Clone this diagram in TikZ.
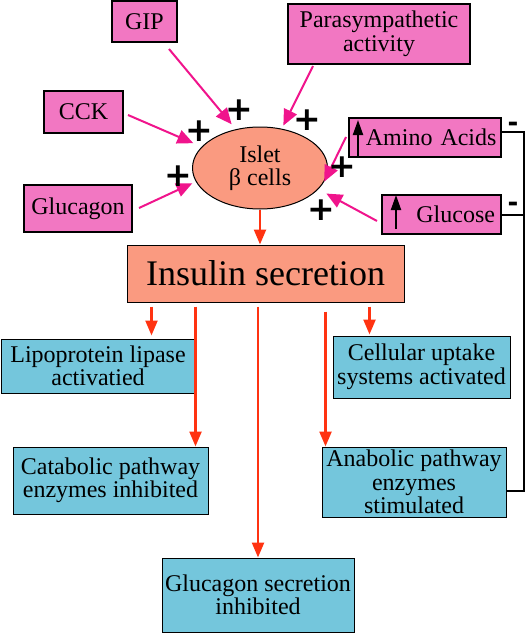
\documentclass[tikz,border=0pt]{standalone}
\usepackage{fontspec}
\setmainfont{Liberation Serif}
\newfontfamily\signfont{DejaVu Sans}
\usetikzlibrary{arrows.meta,shapes.geometric,calc}
\definecolor{pinkfill}{HTML}{F277C2}
\definecolor{redfill}{HTML}{FA9A80}
\definecolor{cyanfill}{HTML}{74C6DC}
\definecolor{pinkline}{HTML}{F0148C}
\definecolor{redline}{HTML}{FF3311}
\begin{document}
\begin{tikzpicture}[x=1pt,y=-1pt,
  txt/.style={font=\fontsize{24}{23.5}\selectfont, align=center, inner sep=0pt},
  pinkbox/.style={txt, draw=black, line width=2pt, fill=pinkfill},
  cyanbox/.style={txt, draw=black, line width=1pt, fill=cyanfill},
  redbox/.style={draw=black, line width=1pt, fill=redfill, inner sep=0pt},
  pkarr/.style={draw=pinkline, line width=2pt, -{Triangle[length=16pt,width=14pt]}},
  rdarr/.style={draw=redline, line width=2.4pt, -{Triangle[length=15pt,width=12pt]}},
  uparr/.style={draw=black, line width=2pt, -{Triangle[length=15pt,width=10pt]}},
  blk/.style={draw=black, line width=2pt},
  plussign/.style={font=\signfont\bfseries\fontsize{33}{33}\selectfont, inner sep=0pt},
  minussign/.style={font=\signfont\bfseries\fontsize{26}{26}\selectfont, inner sep=0pt}]
\useasboundingbox (0,0) rectangle (529,634);

% input boxes
\node[pinkbox, minimum width=65pt, minimum height=41pt] (gip) at (144.5,21.5) {GIP};
\node[pinkbox, minimum width=182pt, minimum height=60pt] (para) at (379,34) {Parasympathetic\\activity};
\node[pinkbox, minimum width=79pt, minimum height=42pt] (cck) at (83.5,112) {CCK};
\node[pinkbox, minimum width=108pt, minimum height=47pt] (glucagon) at (78,208.5) {Glucagon};
\node[pinkbox, minimum width=152pt, minimum height=39pt, text width=143pt, align=right, inner xsep=4pt] (amino) at (425,137.5) {Amino Acids};
\node[pinkbox, minimum width=119pt, minimum height=39pt, text width=107pt, align=right, inner xsep=6pt] (glucose) at (441.5,214.5) {Glucose};

% islet
\node[ellipse, draw=black, line width=1pt, fill=redfill, minimum width=135pt, minimum height=82pt, txt] (islet) at (260,168) {Islet\\β cells};

% insulin
\node[redbox, minimum width=277pt, minimum height=57pt, font=\fontsize{36}{36}\selectfont] (insulin) at (265.5,273.5) {Insulin secretion};

% effect boxes
\node[cyanbox, minimum width=194pt, minimum height=54pt] (lipo) at (98,366) {Lipoprotein lipase\\activatied};
\node[cyanbox, minimum width=177pt, minimum height=62pt] (cell) at (421.5,367) {Cellular uptake\\systems activated};
\node[cyanbox, minimum width=195pt, minimum height=67pt] (cat) at (110.5,480.5) {Catabolic pathway\\enzymes inhibited};
\node[cyanbox, minimum width=184pt, minimum height=70pt] (ana) at (414,482) {Anabolic pathway\\enzymes\\stimulated};
\node[cyanbox, minimum width=192pt, minimum height=74pt] (gsec) at (258,595) {Glucagon secretion\\inhibited};

% up arrows in boxes
\draw[uparr] ($(amino.south west)+(10,-2)$) -- ($(amino.north west)+(10,3)$);
\draw[uparr] ($(glucose.south west)+(15,-6)$) -- ($(glucose.north west)+(15,1)$);

% pink arrows
\draw[pkarr, shorten >=6.5pt] ($(gip.south)+(24.5,6)$) -- (islet.122);
\draw[pkarr, shorten >=3.5pt] ($(para.south)+(-66,1)$) -- (islet.61);
\draw[pkarr, shorten >=9pt] ($(cck.east)+(4,3)$) -- (islet.160);
\draw[pkarr, shorten >=3.8pt] ($(glucagon.east)+(6,-0.5)$) -- (islet.192.6);
\draw[pkarr] ($(amino.west)+(-2,-0.5)$) -- (islet.-12.3);
\draw[pkarr, shorten >=9pt] ($(glucose.west)+(-4,6.5)$) -- (islet.-20.7);

% plus signs
\node[plussign] (p1) at (239,110) {+};
\node[plussign] (p2) at (307,120) {+};
\node[plussign] (p3) at (199,131) {+};
\node[plussign] (p4) at (178,176) {+};
\node[plussign] (p5) at (342,167) {+};
\node[plussign] (p6) at (321,210) {+};

% minus signs
\node[minussign] (m1) at (513,127) {-};
\node[minussign] (m2) at (513,207) {-};

% feedback line
\coordinate (rc) at (524,491);
\draw[blk] ($(amino.east)+(0,-6)$) -| (rc) -- (rc -| ana.east);
\draw[blk] (glucose.east) -- (glucose.east -| rc);

% red arrows
\draw[rdarr] (islet.south) -- (islet.south |- insulin.north);
\coordinate (s1) at ($(insulin.south west)+(25,4)$);
\coordinate (s2) at ($(insulin.south west)+(69,4)$);
\coordinate (s3) at ($(gsec.north |- insulin.south)+(0,4)$);
\coordinate (s4) at ($(insulin.south west)+(199,9)$);
\coordinate (s5) at ($(insulin.south west)+(243,4)$);
\draw[rdarr, shorten >=3pt] (s1) -- (s1 |- lipo.north);
\draw[rdarr] (s2) -- (s2 |- cat.north);
\draw[rdarr] (s3) -- (gsec.north);
\draw[rdarr] (s4) -- (s4 |- ana.north);
\draw[rdarr, shorten >=1pt] (s5) -- (s5 |- cell.north);
\end{tikzpicture}
\end{document}
